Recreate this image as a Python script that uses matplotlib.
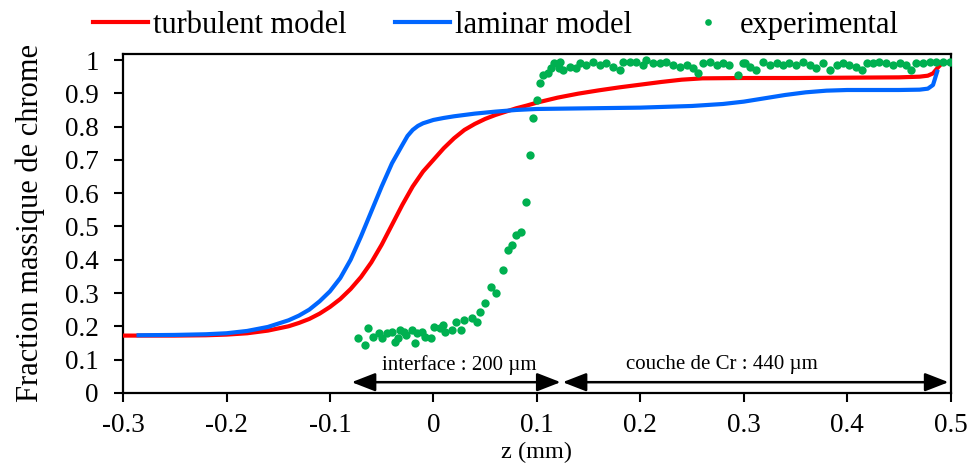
import matplotlib
matplotlib.use("Agg")
import matplotlib.pyplot as plt

# turbulent model (red)
z_turb = [-0.3, -0.25, -0.22, -0.2, -0.18, -0.16, -0.14, -0.13, -0.12, -0.11,
          -0.10, -0.09, -0.08, -0.07, -0.06, -0.05, -0.04, -0.03, -0.02, -0.01,
          0.0, 0.01, 0.02, 0.03, 0.04, 0.05, 0.06, 0.07, 0.08, 0.09,
          0.1, 0.12, 0.14, 0.16, 0.18, 0.2, 0.22, 0.24, 0.26, 0.3,
          0.35, 0.4, 0.45, 0.47, 0.478, 0.483, 0.487, 0.49]
w_turb = [0.172, 0.172, 0.173, 0.175, 0.179, 0.187, 0.200, 0.210, 0.222, 0.238,
          0.258, 0.282, 0.312, 0.348, 0.392, 0.445, 0.505, 0.565, 0.620, 0.665,
          0.700, 0.735, 0.765, 0.790, 0.808, 0.823, 0.835, 0.845, 0.855, 0.863,
          0.872, 0.887, 0.899, 0.909, 0.918, 0.926, 0.934, 0.941, 0.945, 0.946,
          0.946, 0.947, 0.948, 0.950, 0.953, 0.960, 0.975, 0.985]

# laminar model (blue)
z_lam = [-0.285, -0.25, -0.22, -0.2, -0.18, -0.16, -0.14, -0.13, -0.12, -0.11,
         -0.10, -0.09, -0.08, -0.07, -0.06, -0.05, -0.04, -0.03, -0.025, -0.02,
         -0.015, -0.01, 0.0, 0.01, 0.02, 0.04, 0.06, 0.08, 0.1, 0.15,
         0.2, 0.25, 0.28, 0.3, 0.32, 0.34, 0.36, 0.38, 0.4, 0.45,
         0.47, 0.478, 0.483, 0.487]
w_lam = [0.173, 0.174, 0.176, 0.179, 0.186, 0.198, 0.218, 0.232, 0.250, 0.275,
         0.305, 0.345, 0.400, 0.470, 0.545, 0.620, 0.690, 0.745, 0.772, 0.790,
         0.802, 0.810, 0.820, 0.826, 0.831, 0.839, 0.845, 0.850, 0.853, 0.855,
         0.857, 0.862, 0.868, 0.875, 0.885, 0.895, 0.903, 0.908, 0.910, 0.910,
         0.911, 0.914, 0.925, 0.965]

# experimental points (green)
z_exp = [-0.073, -0.066, -0.063, -0.058, -0.053, -0.050, -0.045, -0.040, -0.037,
         -0.034, -0.032, -0.028, -0.026, -0.021, -0.018, -0.016, -0.011, -0.008,
         -0.002, 0.001, 0.006, 0.009, 0.011, 0.018, 0.022, 0.027, 0.030, 0.037,
         0.042, 0.045, 0.050, 0.056, 0.061, 0.067, 0.072, 0.076, 0.080, 0.085,
         0.090, 0.093, 0.096, 0.100, 0.103, 0.106, 0.111, 0.114, 0.117, 0.121,
         0.122, 0.125, 0.132, 0.138, 0.142, 0.148, 0.154, 0.161, 0.167, 0.174,
         0.180, 0.183, 0.190, 0.196, 0.203, 0.206, 0.212, 0.219, 0.225, 0.232,
         0.238, 0.245, 0.251, 0.256, 0.261, 0.267, 0.274, 0.280, 0.286, 0.294,
         0.299, 0.301, 0.306, 0.312, 0.319, 0.325, 0.332, 0.338, 0.344, 0.351,
         0.357, 0.364, 0.370, 0.377, 0.383, 0.390, 0.396, 0.402, 0.409, 0.414,
         0.419, 0.425, 0.431, 0.438, 0.444, 0.451, 0.457, 0.462, 0.467, 0.473,
         0.480, 0.486, 0.493, 0.499]
w_exp = [0.164, 0.144, 0.194, 0.169, 0.179, 0.164, 0.179, 0.184, 0.154,
         0.164, 0.189, 0.184, 0.174, 0.189, 0.149, 0.179, 0.184, 0.169,
         0.164, 0.199, 0.194, 0.204, 0.184, 0.189, 0.214, 0.189, 0.219, 0.224,
         0.214, 0.244, 0.269, 0.319, 0.299, 0.369, 0.429, 0.444, 0.474, 0.484,
         0.574, 0.715, 0.825, 0.880, 0.930, 0.955, 0.960, 0.975, 0.990, 0.975,
         0.995, 0.970, 0.980, 0.975, 0.990, 0.985, 0.995, 0.985, 0.990, 0.980,
         0.970, 0.995, 0.995, 0.995, 0.985, 1.000, 0.990, 0.990, 0.995, 0.985,
         0.980, 0.985, 0.975, 0.960, 0.990, 0.995, 0.985, 0.990, 0.985, 0.955,
         0.990, 0.990, 0.980, 0.970, 0.995, 0.985, 0.990, 0.985, 0.990, 0.985,
         0.995, 0.985, 0.975, 0.990, 0.970, 0.985, 0.990, 0.985, 0.980, 0.970,
         0.990, 0.990, 0.995, 0.990, 0.985, 0.990, 0.985, 0.970, 0.990, 0.990,
         0.995, 0.995, 0.995, 0.995]

x_ticks = [-0.3, -0.2, -0.1, 0, 0.1, 0.2, 0.3, 0.4, 0.5]
x_tick_labels = ["-0.3", "-0.2", "-0.1", "0", "0.1", "0.2", "0.3", "0.4", "0.5"]
y_ticks = [0, 0.1, 0.2, 0.3, 0.4, 0.5, 0.6, 0.7, 0.8, 0.9, 1.0]
y_tick_labels = ["0", "0.1", "0.2", "0.3", "0.4", "0.5", "0.6", "0.7", "0.8", "0.9", "1"]

plt.rcParams["font.family"] = ["Liberation Serif", "DejaVu Serif"]

fig = plt.figure(figsize=(9.69, 4.66), dpi=100)
ax = fig.add_axes([0.127, 0.157, 0.854, 0.727])

red = "#FF0000"
blue = "#0066FF"
green = "#00B050"

ax.plot(z_turb, w_turb, color=red, lw=3, label="turbulent model", zorder=3)
ax.plot(z_lam, w_lam, color=blue, lw=3, label="laminar model", zorder=4)
ax.plot(z_exp, w_exp, "o", color=green, ms=6, mec="none",
        label="experimental", zorder=5)

ax.set_xlim(-0.3, 0.5)
ax.set_ylim(0, 1.018)
ax.set_xticks(x_ticks)
ax.set_xticklabels(x_tick_labels)
ax.set_yticks(y_ticks)
ax.set_yticklabels(y_tick_labels)
ax.tick_params(direction="out", length=6.5, width=1.5, labelsize=19.5, pad=11)
ax.tick_params(axis="x", pad=8)
for s in ax.spines.values():
    s.set_linewidth(1.6)

ax.set_ylabel("Fraction massique de chrome", fontsize=22)
ax.yaxis.set_label_coords(-0.094, 0.5)
ax.set_xlabel("z (mm)", fontsize=17.5)
ax.xaxis.set_label_coords(0.5, -0.146)

# double arrows with labels
arrow = dict(arrowstyle="<|-|>,head_length=0.9,head_width=0.35",
             color="black", lw=1.8, shrinkA=0, shrinkB=0, mutation_scale=16)
ax.annotate("", xy=(-0.079, 0.032), xytext=(0.123, 0.032), arrowprops=arrow)
ax.annotate("", xy=(0.125, 0.032), xytext=(0.498, 0.032), arrowprops=arrow)
ax.text(0.025, 0.084, "interface : 200 µm", ha="center", va="center", fontsize=15)
ax.text(0.279, 0.084, "couche de Cr : 440 µm", ha="center", va="center", fontsize=15)

fig.legend(loc="center", bbox_to_anchor=(0.512, 0.946), ncol=3, frameon=False,
           fontsize=22, handlelength=1.8, handletextpad=0.15, columnspacing=1.6,
           borderpad=0, markerscale=0.8)

fig.savefig("out.png", dpi=100)
